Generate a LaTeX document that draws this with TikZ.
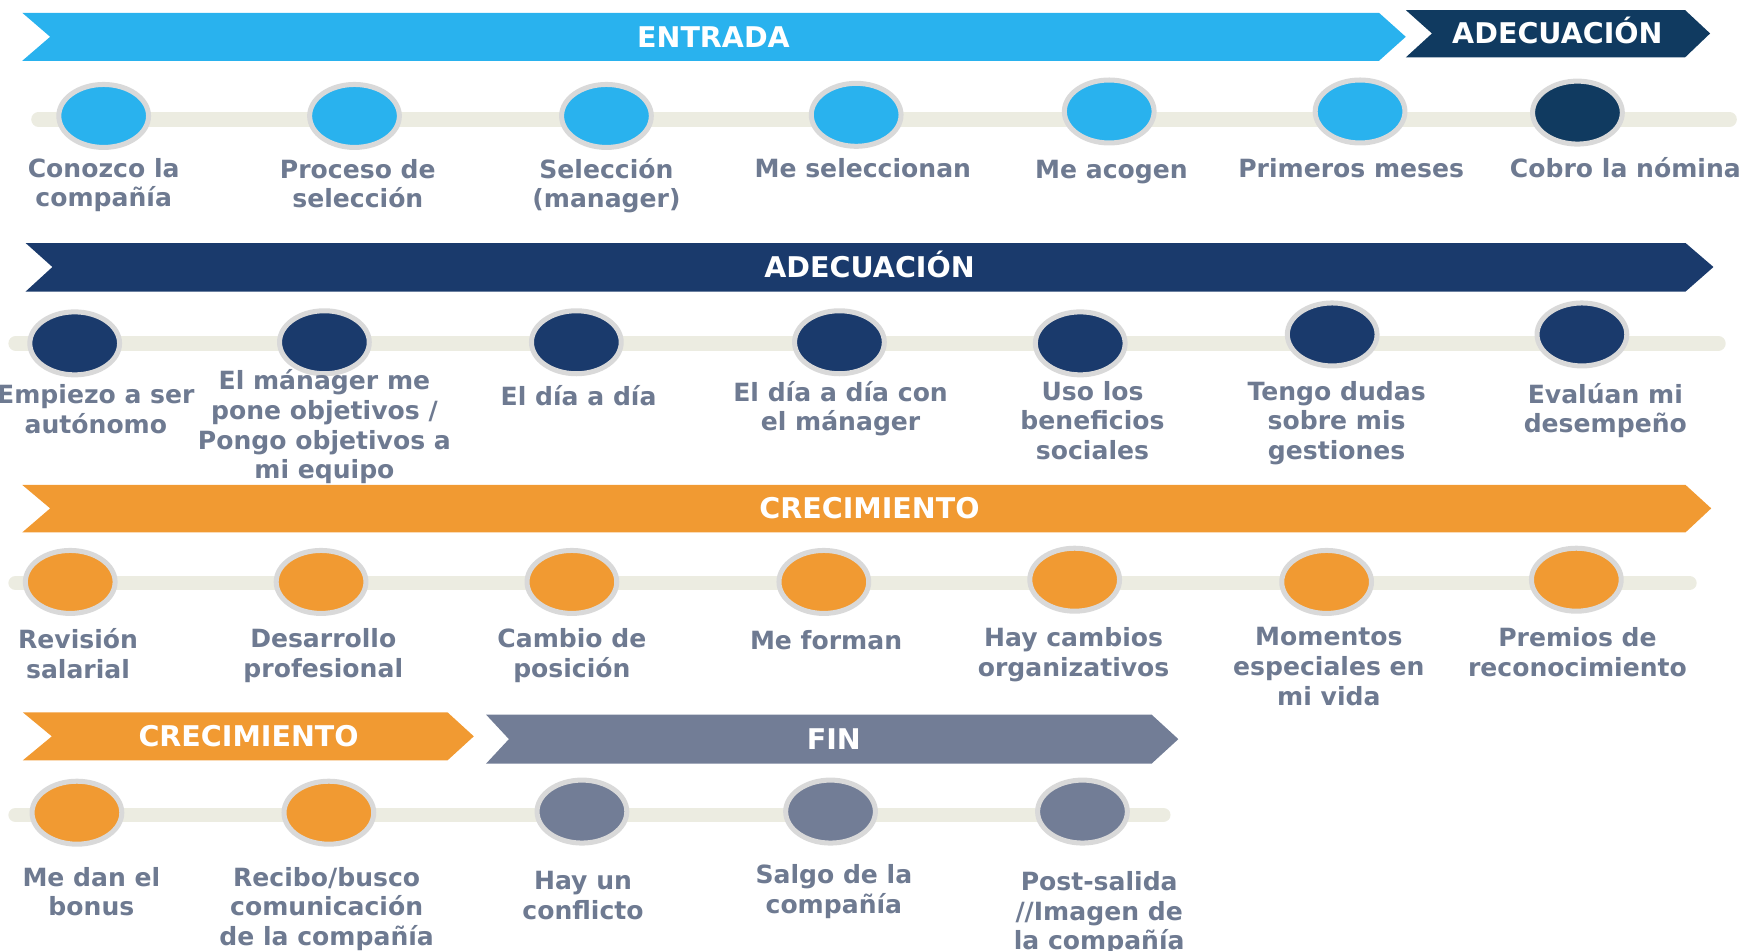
\documentclass[tikz,border=0pt]{standalone}
\usepackage{fontspec}
\setmainfont{DejaVu Sans}
\usetikzlibrary{shapes.geometric}
\definecolor{cblue}{HTML}{29B2EE}
\definecolor{cnavy}{HTML}{1A3A6C}
\definecolor{cdark}{HTML}{103A60}
\definecolor{corange}{HTML}{F19A32}
\definecolor{cfin}{HTML}{727D96}
\definecolor{cring}{HTML}{D9D9D9}
\definecolor{ctrack}{HTML}{ECECE1}
\definecolor{clabel}{HTML}{6E7A91}
\tikzset{
  track/.style={draw=ctrack, line width=6.5pt, line cap=round},
  dot/.style={ellipse, draw=cring, line width=2.25pt, minimum width=40.25pt, minimum height=28.25pt, inner sep=0pt},
  lbl/.style={font=\fontsize{11.25}{13.3}\selectfont\bfseries, text=clabel, align=center, inner sep=0pt, anchor=north, yshift=5.3pt, execute at begin node=\strut},
  bantxt/.style={font=\fontsize{12.8}{15}\selectfont\bfseries, text=white, inner sep=0pt, anchor=base, yshift=-4.67pt}
}
\begin{document}
\begin{tikzpicture}[x=0.5pt,y=-0.5pt]
\useasboundingbox (0,0) rectangle (1568,853);
% ---------- banners ----------
\fill[cblue] (20,11.5) -- (1237,11.5) -- (1261,33) -- (1237,54.5) -- (20,54.5) -- (45,33) -- cycle;
\node[bantxt] (b1) at (640,33) {ENTRADA};
\fill[cdark] (1261,9) -- (1511.5,9) -- (1534,30) -- (1511.5,51.5) -- (1261,51.5) -- (1284.5,30) -- cycle;
\node[bantxt] (b2) at (1397,30) {ADECUACIÓN};
\fill[cnavy] (23,218) -- (1512,218) -- (1537,239.5) -- (1512,261.5) -- (23,261.5) -- (47,239.5) -- cycle;
\node[bantxt] (b3) at (780,240) {ADECUACIÓN};
\fill[corange] (20,435) -- (1512,435) -- (1535,456) -- (1512,477.5) -- (20,477.5) -- (45,456) -- cycle;
\node[bantxt] (b4) at (780,456) {CRECIMIENTO};
\fill[corange] (20.5,639) -- (401.5,639) -- (425,660.5) -- (401.5,682) -- (20.5,682) -- (46.5,660.5) -- cycle;
\node[bantxt] (b5) at (223,660) {CRECIMIENTO};
\fill[cfin] (436,641) -- (1033,641) -- (1057,663) -- (1033,685) -- (436,685) -- (456.5,663) -- cycle;
\node[bantxt] (b6) at (748,663) {FIN};
% ---------- tracks ----------
\coordinate (t1a) at (34.5,107); \coordinate (t1b) at (1551.5,107);
\coordinate (t2a) at (14,308);   \coordinate (t2b) at (1541.5,308);
\coordinate (t3a) at (14,523);   \coordinate (t3b) at (1515.5,523);
\coordinate (t4a) at (14,731);   \coordinate (t4b) at (1043.5,731);
\draw[track] (t1a) -- (t1b);
\draw[track] (t2a) -- (t2b);
\draw[track] (t3a) -- (t3b);
\draw[track] (t4a) -- (t4b);
% ---------- row 1 ----------
\node[dot, fill=cblue] (c11) at (93,104) {};
\node[dot, fill=cblue] (c12) at (318,104) {};
\node[dot, fill=cblue] (c13) at (544,104) {};
\node[dot, fill=cblue] (c14) at (768,103) {};
\node[dot, fill=cblue] (c15) at (995,100) {};
\node[dot, fill=cblue] (c16) at (1220,100) {};
\node[dot, fill=cdark] (c17) at (1415,101) {};
\node[lbl] (l11) at (93,152) {Conozco la\\compañía};
\node[lbl] (l12) at (321,153) {Proceso de\\selección};
\node[lbl] (l13) at (544,152) {Selección\\(manager)};
\node[lbl] (l14) at (774,151) {Me seleccionan};
\node[lbl] (l15) at (997,152) {Me acogen};
\node[lbl] (l16) at (1212,151) {Primeros meses};
\node[lbl] (l17) at (1458,151) {Cobro la nómina};
% ---------- row 2 ----------
\node[dot, fill=cnavy] (c21) at (67,308) {};
\node[dot, fill=cnavy] (c22) at (291,307) {};
\node[dot, fill=cnavy] (c23) at (517,307) {};
\node[dot, fill=cnavy] (c24) at (753,307) {};
\node[dot, fill=cnavy] (c25) at (969,308) {};
\node[dot, fill=cnavy] (c26) at (1195,300) {};
\node[dot, fill=cnavy] (c27) at (1419,300) {};
\node[lbl] (l21) at (86,355) {Empiezo a ser\\autónomo};
\node[lbl] (l22) at (291,342) {El mánager me\\pone objetivos /\\Pongo objetivos a\\mi equipo};
\node[lbl] (l23) at (519,355) {El día a día};
\node[lbl] (l24) at (754,352) {El día a día con\\el mánager};
\node[lbl] (l25) at (980,352) {Uso los\\beneficios\\sociales};
\node[lbl] (l26) at (1199,352) {Tengo dudas\\sobre mis\\gestiones};
\node[lbl] (l27) at (1440,354) {Evalúan mi\\desempeño};
% ---------- row 3 ----------
\node[dot, fill=corange] (c31) at (63,522) {};
\node[dot, fill=corange] (c32) at (288,522) {};
\node[dot, fill=corange] (c33) at (513,522) {};
\node[dot, fill=corange] (c34) at (739,522) {};
\node[dot, fill=corange] (c35) at (964,520) {};
\node[dot, fill=corange] (c36) at (1190,522) {};
\node[dot, fill=corange] (c37) at (1414,520) {};
\node[lbl] (l31) at (70,574) {Revisión\\salarial};
\node[lbl] (l32) at (290,574) {Desarrollo\\profesional};
\node[lbl] (l33) at (513,574) {Cambio de\\posición};
\node[lbl] (l34) at (741,574) {Me forman};
\node[lbl] (l35) at (963,573) {Hay cambios\\organizativos};
\node[lbl] (l36) at (1192,573) {Momentos\\especiales en\\mi vida};
\node[lbl] (l37) at (1415,573) {Premios de\\reconocimiento};
% ---------- row 4 ----------
\node[dot, fill=corange] (c41) at (69,729) {};
\node[dot, fill=corange] (c42) at (295,729) {};
\node[dot, fill=cfin] (c43) at (522,728) {};
\node[dot, fill=cfin] (c44) at (745,728) {};
\node[dot, fill=cfin] (c45) at (971,728) {};
\node[lbl] (l41) at (82,788) {Me dan el\\bonus};
\node[lbl] (l42) at (293,788) {Recibo/busco\\comunicación\\de la compañía};
\node[lbl] (l43) at (523,792) {Hay un\\conflicto};
\node[lbl] (l44) at (748,786) {Salgo de la\\compañía};
\node[lbl] (l45) at (986,792) {Post-salida\\//Imagen de\\la compañía};
\end{tikzpicture}
\end{document}
